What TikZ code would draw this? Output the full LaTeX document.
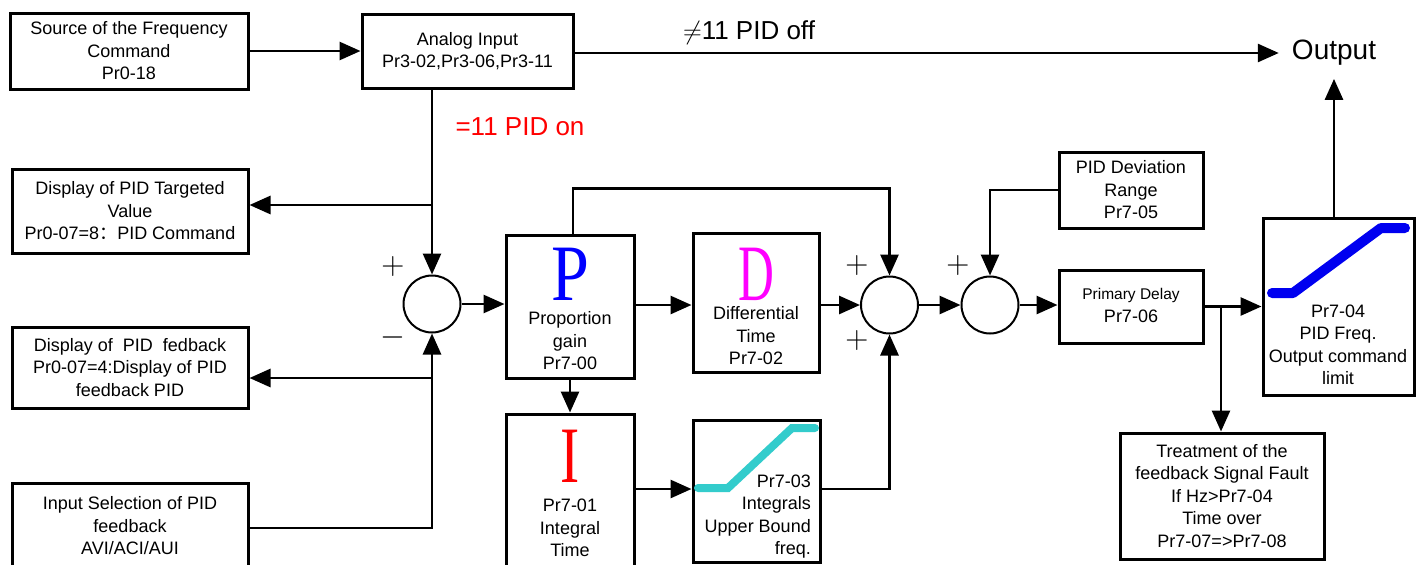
\RequirePackage{fix-cm}
\documentclass[tikz,border=0pt]{standalone}
\usepackage{fontspec}
\setmainfont{Liberation Sans}
\newfontfamily\serifL{Liberation Serif}
\newfontfamily\cjk{Noto Sans CJK SC}
\usetikzlibrary{arrows.meta}
\definecolor{cyanc}{RGB}{51,204,204}
\definecolor{blueL}{RGB}{0,0,240}
\definecolor{pblue}{RGB}{0,0,255}
\definecolor{dmag}{RGB}{255,0,255}
\definecolor{ired}{RGB}{255,0,0}
\begin{document}
\begin{tikzpicture}[x=1pt,y=-1pt,
  box/.style={draw, line width=3pt, inner sep=0pt, align=center, font=\fontsize{18}{22.5}\selectfont},
  arr/.style={line width=2.8pt, -{Triangle[length=21pt,width=18pt]}},
  sumc/.style={draw, circle, line width=2pt, minimum size=57pt, inner sep=0pt},
  sign/.style={font=\fontsize{32}{32}\selectfont, inner sep=0pt},
  txt/.style={font=\fontsize{18}{22.5}\selectfont, align=center, inner sep=0pt},
  big/.style={font=\serifL\fontsize{80}{80}\selectfont, inner sep=0pt},
  lbl/.style={font=\fontsize{26}{26}\selectfont, inner sep=0pt}]
\clip (0,0) rectangle (1422,565);
\fill[white] (0,0) rectangle (1422,565);

% boxes
\node[box, minimum width=238pt, minimum height=76pt] (src) at (129,51) {Source of the Frequency\\Command\\Pr0-18};
\node[box, minimum width=211pt, minimum height=74pt] (analog) at (467.5,51) {Analog Input\\Pr3-02,Pr3-06,Pr3-11};
\node[box, minimum width=236pt, minimum height=84pt] (targ) at (130,211) {Display of PID Targeted\\Value\\Pr0-07=8{\cjk ：}PID Command};
\node[box, minimum width=236pt, minimum height=81pt] (fed) at (130,367.5) {Display of~ PID~ fedback\\Pr0-07=4:Display of PID\\feedback PID};
\node[box, minimum width=236pt, minimum height=86pt] (inp) at (130,526) {Input Selection of PID\\feedback\\AVI/ACI/AUI};

\node[sumc] (s1) at (432,304) {};
\node[sumc] (s2) at (889.5,305) {};
\node[sumc] (s3) at (990,305) {};

\node[box, minimum width=128pt, minimum height=143pt] (P) at (570,306.5) {};
\node[big, text=pblue] (Pl) at (570,274) {\scalebox{0.85}[1]{P}};
\node[txt] (Pt) at (570,341) {Proportion\\gain\\Pr7-00};

\node[box, minimum width=126pt, minimum height=139pt] (D) at (756,302.5) {};
\node[big, text=dmag] (Dl) at (756,274) {\scalebox{0.62}[1]{D}};
\node[txt] (Dt) at (756,336) {Differential\\Time\\Pr7-02};

\node[box, minimum width=128pt, minimum height=160pt] (I) at (570,494) {};
\node[big, text=ired] (Il) at (570,456.5) {\scalebox{0.72}[1]{I}};
\node[txt] (It) at (570,528) {Pr7-01\\Integral\\Time};

\node[box, minimum width=127pt, minimum height=142pt] (intg) at (756.5,491) {};
\draw[line width=8pt, cyanc, line cap=round] (698,488) -- (728,488) -- (792,428) -- (815,428);
\node[txt, align=right, anchor=east] (intgt) at (811,516.5) {Pr7-03\\Integrals\\Upper Bound\\freq.};

\node[box, minimum width=144pt, minimum height=76pt] (dev) at (1131,190) {PID Deviation\\Range\\Pr7-05};
\node[box, minimum width=144pt, minimum height=73pt] (delay) at (1131,306.5) {};
\node[font=\fontsize{15.5}{19}\selectfont, inner sep=0pt] (delayt1) at (1131,295) {Primary Delay};
\node[txt] (delayt2) at (1131,316) {Pr7-06};

\node[box, minimum width=151pt, minimum height=177pt] (lim) at (1338.5,306.5) {};
\draw[line width=10pt, blueL, line cap=round, line join=round] (1272,293) -- (1293,293) -- (1381,228) -- (1405,228);
\node[txt] (limt) at (1338,345) {Pr7-04\\PID Freq.\\Output command\\limit};

\node[box, minimum width=204pt, minimum height=126pt] (treat) at (1222,496) {Treatment of the\\feedback Signal Fault\\If Hz>Pr7-04\\Time over\\Pr7-07=>Pr7-08};

\node[inner sep=13pt, font=\fontsize{28}{28}\selectfont] (out) at (1334,53) {Output};
\node[lbl] (off) at (749,33) {$\neq$11 PID off};
\node[lbl, text=ired] (on) at (520,127) {=11 PID on};

% signs
\node[sign] at (393,266) {$+$};
\node[sign] at (393,337) {$-$};
\node[sign] at (857,265) {$+$};
\node[sign] at (857,340) {$+$};
\node[sign] at (958,265) {$+$};

% connectors
\draw[arr] (src.east) -- (src.east -| analog.west);
\draw[arr] (analog.east |- out) -- (out.west);
\draw[arr] (analog.south -| s1) -- (s1.north);
\coordinate (j1) at (432,205);
\draw[arr] (j1) -- (j1 -| targ.east);
\coordinate (j2) at (432,378);
\draw[arr] (j2) -- (j2 -| fed.east);
\coordinate (j3) at (432,528);
\draw[arr] (j3 -| inp.east) -- (j3) -- (s1.south);

\draw[arr] (s1.east) -- (s1 -| P.west);
\draw[arr] (s2 -| P.east) -- (s2 -| D.west);
\draw[arr] (s2 -| D.east) -- (s2.west);
\draw[arr] (s2.east) -- (s3.west);
\draw[arr] (s3.east) -- (s3 -| delay.west);
\draw[arr] (delay.east) -- (delay.east -| lim.west);
\coordinate (br) at (1221,306.5);
\draw[arr] (br) -- (br |- treat.north);
\draw[arr] ([xshift=3pt]P.north) -- ++(0,-45) -| (s2.north);
\draw[arr] (dev.west) -| (s3.north);
\draw[arr] (P.south) -- (I.north);
\coordinate (k) at (0,489);
\draw[arr] (k -| I.east) -- (k -| intg.west);
\draw[arr] (k -| intg.east) -| (s2.south);
\draw[arr] (out |- lim.north) -- (out.south);
\end{tikzpicture}
\end{document}
